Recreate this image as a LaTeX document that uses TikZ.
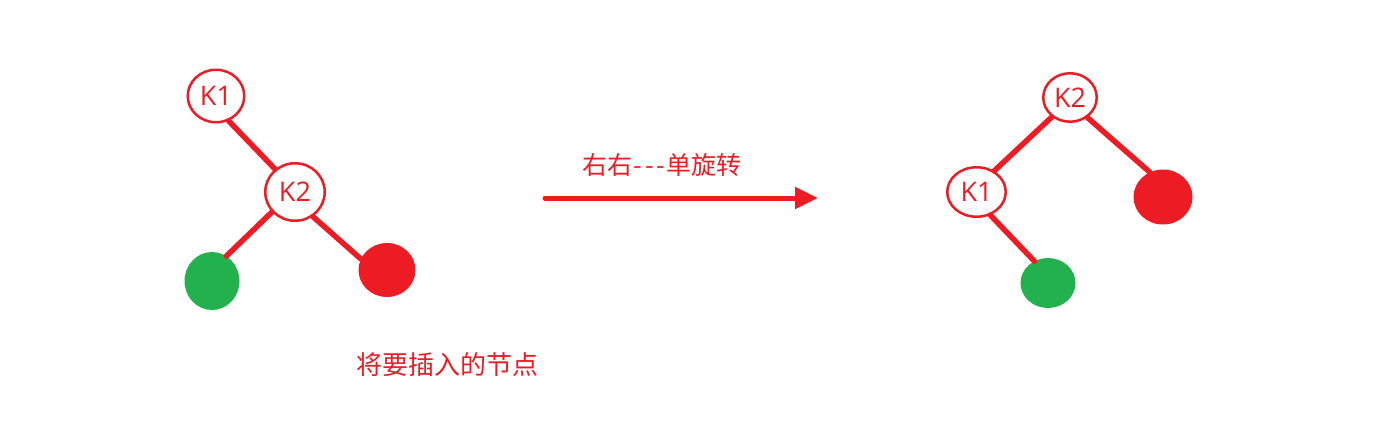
\documentclass[tikz,border=0pt]{standalone}
\usepackage{fontspec}
\setmainfont{Open Sans}
\newfontfamily\cjk{Noto Sans CJK SC}
\usetikzlibrary{shapes.geometric,arrows.meta}
\definecolor{pred}{RGB}{237,28,36}
\definecolor{pgreen}{RGB}{34,177,76}
\tikzset{
  keynode/.style={ellipse, draw=pred, line width=2.5pt, fill=white, text=pred, inner sep=0pt,
    font=\fontsize{27}{27}\selectfont},
  leaf/.style={ellipse, inner sep=0pt, draw=none},
  redleaf/.style={leaf, fill=pred},
  greenleaf/.style={leaf, fill=pgreen},
  edge/.style={draw=pred, line width=5.5pt, line cap=round},
  txtlabel/.style={text=pred, inner sep=0pt, font=\cjk\fontsize{25}{25}\selectfont},
  bigarrow/.style={draw=pred, line width=5pt, line cap=round, -{Triangle[length=23pt,width=21pt]}}
}
\newcommand{\hy}{\makebox[11.5pt]{-}}
\begin{document}
\begin{tikzpicture}[x=1pt,y=-1pt]
\useasboundingbox[fill=white] (0,0) rectangle (1397,437);
% left tree
\node[keynode, minimum width=56.5pt, minimum height=52.5pt] (lk1) at (216,96) {K1};
\node[keynode, minimum width=59.5pt, minimum height=57.5pt] (lk2) at (295,192) {K2};
\node[greenleaf, minimum width=55pt, minimum height=58pt] (lg) at (212,281) {};
\node[redleaf, minimum width=57pt, minimum height=54pt] (lr) at (387,270) {};
\draw[edge] (lk1.-63) -- (lk2.131);
\draw[edge] (lk2.221) -- (lg.60);
\draw[edge] (lk2.306) -- (lr.157);
% arrow
\coordinate (as) at (545,198);
\coordinate (ae) at (818,198);
\draw[bigarrow] (as) -- (ae);
\node[txtlabel] (rot) at (662,165) {右右\hy\hy\hy 单旋转};
\node[txtlabel, font=\cjk\fontsize{26}{26}\selectfont] (ins) at (447,365) {将要插入的节点};
% right tree
\node[keynode, minimum width=53.5pt, minimum height=48.5pt] (rk2) at (1070,97.5) {K2};
\node[keynode, minimum width=58.5pt, minimum height=49.5pt] (rk1) at (976.5,192) {K1};
\node[redleaf, minimum width=59pt, minimum height=55pt] (rr) at (1163,197) {};
\node[greenleaf, minimum width=55pt, minimum height=50pt] (rg) at (1048,283) {};
\draw[edge] (rk2.227) -- (rk1.50);
\draw[edge] (rk2.311) -- (rr.118);
\draw[edge] (rk1.301) -- (rg.122);
\end{tikzpicture}
\end{document}
